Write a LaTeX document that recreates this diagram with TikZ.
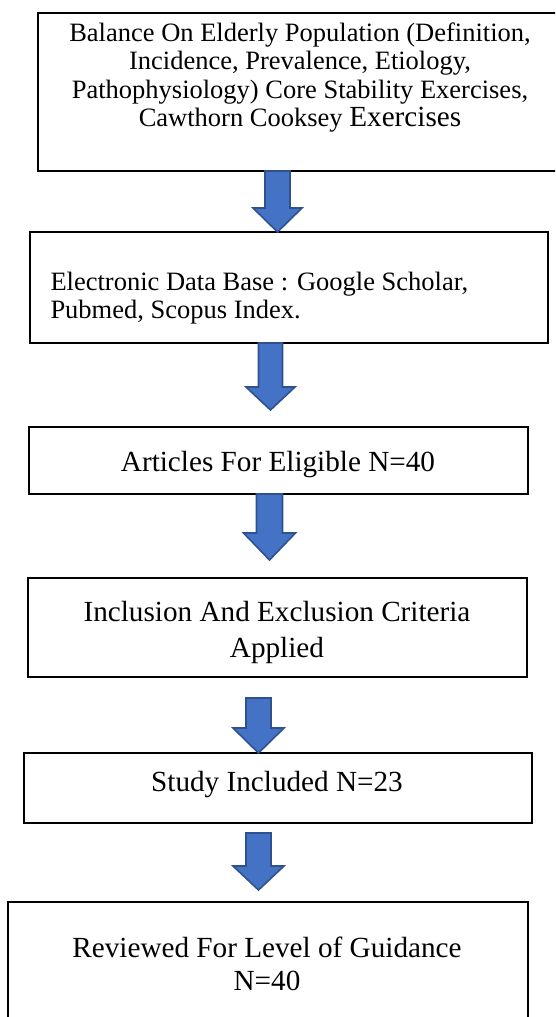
\documentclass[tikz,border=0pt]{standalone}
\usepackage{fontspec}
\setmainfont{Liberation Serif}
\usetikzlibrary{calc}
\definecolor{arrfill}{HTML}{4472C4}
\definecolor{arrline}{HTML}{2F528F}
\tikzset{
  box/.style={draw=black, line width=2.4pt, rectangle, inner sep=0pt, outer sep=0pt},
  txta/.style={inner sep=0pt, outer sep=0pt, font=\fontsize{26.5}{28.5}\selectfont},
  txtb/.style={inner sep=0pt, outer sep=0pt, font=\fontsize{29.2}{35}\selectfont},
  blockarrow/.style={fill=arrfill, draw=arrline, line width=1.6pt, line join=miter},
}
% #1 top, #2 tip, #3 shaft half width, #4 head half width, #5 head length
\newcommand\blockarr[5]{%
  \path[blockarrow] let \p1=#1, \p2=#2 in
    ({\x1-#3},\y1) -- ({\x1+#3},\y1) -- ({\x1+#3},{\y2+#5}) -- ({\x1+#4},{\y2+#5})
    -- (\x1,\y2) -- ({\x1-#4},{\y2+#5}) -- ({\x1-#3},{\y2+#5}) -- cycle;}
\begin{document}
\begin{tikzpicture}[x=1pt,y=-1pt]
\useasboundingbox (0,0) rectangle (555,1017);
\clip (0,0) rectangle (555,1017);
\fill[white] (0,0) rectangle (555,1017);

% boxes
\node[box, minimum width=524pt, minimum height=158pt] (b1) at (300,92) {};
\node[box, minimum width=518pt, minimum height=111pt] (b2) at (289,287.5) {};
\node[box, minimum width=499pt, minimum height=67pt]  (b3) at (278.5,460.5) {};
\node[box, minimum width=499pt, minimum height=99pt]  (b4) at (277.5,627.5) {};
\node[box, minimum width=508pt, minimum height=70pt]  (b5) at (278,788) {};
\node[box, minimum width=520pt, minimum height=128pt] (b6) at (268,966) {};

% texts
\node[txta, align=center, anchor=north] (t1) at (300,22.7)
  {Balance On Elderly Population (Definition,\\
   Incidence, Prevalence, Etiology,\\
   Pathophysiology) Core Stability Exercises,\\
   Cawthorn Cooksey {\fontsize{29.2}{28.5}\selectfont Exercises}};
\node[txta, align=left, anchor=north west] (t2) at (50.5,271.7)
  {Electronic Data Base : Google Scholar,\\ Pubmed, Scopus Index.};
\node[txtb, anchor=base] (t3) at (278,471.7) {Articles For Eligible N=40};
\node[txtb, align=center, anchor=north, font=\fontsize{29.2}{36}\selectfont] (t4) at (277,600.8)
  {Inclusion And Exclusion Criteria\\ Applied};
\node[txtb, anchor=base] (t5) at (277,791.7) {Study Included N=23};
\node[txtb, align=center, anchor=north, font=\fontsize{29.2}{33.3}\selectfont] (t6) at (267,936.8)
  {Reviewed For Level of Guidance\\ N=40};

% arrow columns
\coordinate (c1) at (277.5,0);
\coordinate (c2) at (270.5,0);
\coordinate (c3) at (269.5,0);
\coordinate (c4) at (258.5,0);
\coordinate (c5) at (258.5,0);

\blockarr{(c1 |- b1.south)}{(c1 |- b2.north)}{12.5pt}{24.5pt}{24pt}
\blockarr{(c2 |- b2.south)}{($(c2 |- b3.north)+(0,-17)$)}{12pt}{24.5pt}{23pt}
\blockarr{(c3 |- b3.south)}{($(c3 |- b4.north)+(0,-18)$)}{13pt}{26pt}{27pt}
\blockarr{($(c4 |- b4.south)+(0,21)$)}{(c4 |- b5.north)}{12.5pt}{25.5pt}{25pt}
\blockarr{($(c5 |- b5.south)+(0,10)$)}{($(c5 |- b6.north)+(0,-12)$)}{12.5pt}{25.5pt}{24pt}
\end{tikzpicture}
\end{document}
